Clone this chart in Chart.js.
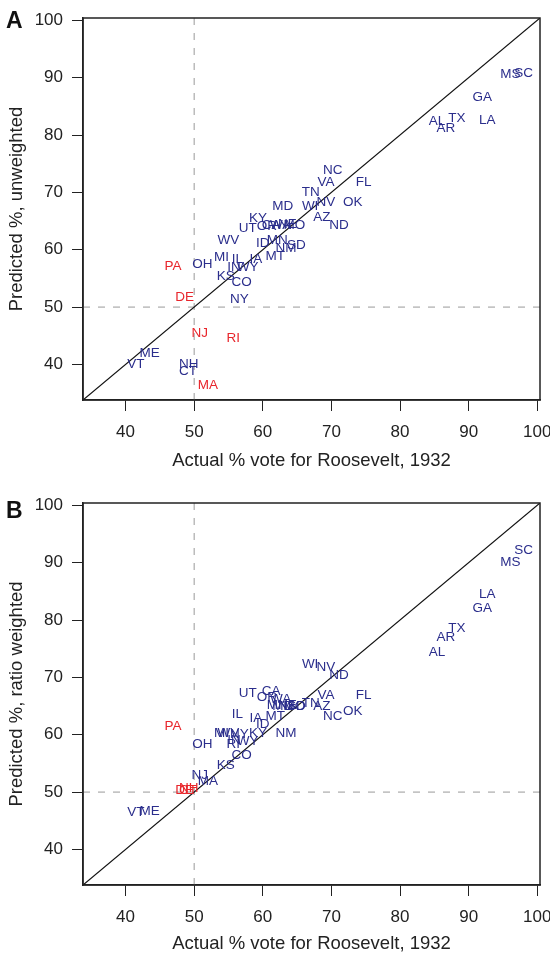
<!DOCTYPE html>
<html>
<head>
<meta charset="utf-8">
<script src="https://cdn.jsdelivr.net/npm/chart.js@4"></script>
<style>
  body { margin: 0; background: #fff; }
  .panel { position: relative; width: 550px; }
  canvas { display: block; }
  .tag { position: absolute; left: 6px; font: bold 23px "Liberation Sans", Arial, sans-serif; color: #111; }
</style>
</head>
<body>
<div class="panel">
  <div class="tag" style="top:7px">A</div>
  <canvas id="chartA" width="550" height="480"></canvas>
</div>
<div class="panel">
  <div class="tag" style="top:17px">B</div>
  <canvas id="chartB" width="550" height="475"></canvas>
</div>
<script>
// states and values
const states = ['AL','AZ','AR','CA','CO','CT','DE','FL','GA','ID','IL','IN','IA','KS','KY','LA',
  'ME','MD','MA','MI','MN','MS','MO','MT','NE','NV','NH','NJ','NM','NY','NC','ND',
  'OH','OK','OR','PA','RI','SC','SD','TN','TX','UT','VT','VA','WA','WV','WI','WY'];

// actual % vote for Roosevelt (x)
const actual = [85.4,68.6,86.7,61.2,56.9,49.1,48.6,74.7,92.0,60.0,56.3,55.8,59.0,54.6,59.3,92.7,
  43.5,62.9,52.0,54.0,62.1,96.1,64.6,61.8,63.6,69.2,49.2,50.8,63.4,56.6,70.2,71.1,
  51.2,73.1,60.6,46.9,55.7,98.0,64.9,67.0,88.3,57.8,41.5,69.2,62.6,55.0,66.9,57.8];

// predicted %, unweighted (panel A)
const predUnweighted = [82.4,65.6,81.2,64.3,54.4,38.8,51.7,71.7,86.6,61.2,58.4,57.0,58.4,55.3,65.4,82.6,
  41.9,67.5,36.3,58.6,61.6,90.6,64.3,58.8,64.4,68.2,40.0,45.4,60.3,51.3,73.9,64.2,
  57.4,68.2,64.1,57.2,44.5,90.8,60.7,70.1,83.0,63.7,40.0,71.8,64.3,61.7,67.5,57.0];

// predicted %, ratio weighted (panel B)
const predRatio = [74.3,65.0,77.0,67.5,56.5,50.4,50.4,66.8,82.1,61.9,63.5,59.0,62.8,54.6,60.3,84.5,
  46.6,65.0,51.8,60.3,65.2,90.1,64.9,63.3,65.2,71.8,50.6,53.0,60.3,60.0,63.3,70.4,
  58.4,64.0,66.6,61.4,58.4,92.2,64.9,65.4,78.6,67.3,46.4,66.8,66.1,60.3,72.2,58.8];

// labels drawn in red
const redA = ['PA','DE','NJ','RI','MA'];
const redB = ['PA','DE','NH','CT'];

const tickValues = [40, 50, 60, 70, 80, 90, 100];
const axisMin = 33.8;
const axisMax = 100.4;
const cutoff = 50;

const BLUE = '#2b2e8c';
const RED = '#e8262c';
const INK = '#222';
const FONT = '"Liberation Sans", Arial, Helvetica, sans-serif';

const stateLabels = {
  id: 'stateLabels',
  afterDatasetsDraw(chart, args, opts) {
    const meta = chart.getDatasetMeta(0);
    const ctx = chart.ctx;
    ctx.save();
    ctx.font = '13.5px ' + FONT;
    ctx.textAlign = 'center';
    ctx.textBaseline = 'middle';
    meta.data.forEach((pt, i) => {
      ctx.fillStyle = opts.red.includes(states[i]) ? RED : BLUE;
      ctx.fillText(states[i], pt.x, pt.y);
    });
    ctx.restore();
  }
};

const frame = {
  id: 'frame',
  afterDraw(chart) {
    const { left, top, right, bottom } = chart.chartArea;
    const ctx = chart.ctx;
    ctx.save();
    ctx.strokeStyle = INK;
    ctx.lineWidth = 1.5;
    ctx.strokeRect(left, top, right - left, bottom - top);
    ctx.restore();
  }
};

function makeChart(id, yValues, yTitle, red, opts) {
  const points = states.map((s, i) => ({ x: actual[i], y: yValues[i] }));
  const ctx = document.getElementById(id).getContext('2d');
  return new Chart(ctx, {
    type: 'scatter',
    data: {
      datasets: [
        {
          label: 'states',
          data: points,
          pointRadius: 0,
          pointHoverRadius: 0
        },
        {
          label: 'diagonal',
          data: [{ x: axisMin, y: axisMin }, { x: axisMax, y: axisMax }],
          showLine: true,
          borderColor: '#111',
          borderWidth: 1.2,
          pointRadius: 0
        },
        {
          label: 'x cutoff',
          data: [{ x: cutoff, y: axisMin }, { x: cutoff, y: axisMax }],
          showLine: true,
          borderColor: '#9a9a9a',
          borderWidth: 1,
          borderDash: [7, 8],
          pointRadius: 0
        },
        {
          label: 'y cutoff',
          data: [{ x: axisMin, y: cutoff }, { x: axisMax, y: cutoff }],
          showLine: true,
          borderColor: '#9a9a9a',
          borderWidth: 1,
          borderDash: [7, 8],
          pointRadius: 0
        }
      ]
    },
    options: {
      responsive: false,
      animation: false,
      devicePixelRatio: 1,
      layout: { padding: { top: opts.top, right: 10, left: 0, bottom: 0 } },
      plugins: {
        legend: { display: false },
        tooltip: { enabled: false },
        stateLabels: { red: red }
      },
      scales: {
        x: {
          type: 'linear',
          min: axisMin,
          max: axisMax,
          afterBuildTicks: (scale) => { scale.ticks = tickValues.map(v => ({ value: v })); },
          afterFit: (scale) => {
            scale.height = opts.xHeight;
            scale.paddingLeft = 0;
            scale.paddingRight = 0;
          },
          grid: { drawOnChartArea: false, drawTicks: true, tickLength: 11, color: INK, lineWidth: 1 },
          border: { display: true, color: INK, width: 1.5 },
          ticks: { color: INK, font: { size: 17, family: FONT }, padding: 11, maxRotation: 0 },
          title: {
            display: true,
            text: 'Actual % vote for Roosevelt, 1932',
            color: INK,
            font: { size: 18.5, family: FONT },
            padding: { top: 0, bottom: opts.titlePad }
          }
        },
        y: {
          type: 'linear',
          min: axisMin,
          max: axisMax,
          afterBuildTicks: (scale) => { scale.ticks = tickValues.map(v => ({ value: v })); },
          afterFit: (scale) => {
            scale.width = 83;
            scale.paddingTop = 0;
            scale.paddingBottom = 0;
          },
          grid: { drawOnChartArea: false, drawTicks: true, tickLength: 11, color: INK, lineWidth: 1 },
          border: { display: true, color: INK, width: 1.5 },
          ticks: { color: INK, font: { size: 17, family: FONT }, padding: 9 },
          title: {
            display: true,
            text: yTitle,
            color: INK,
            font: { size: 18.5, family: FONT },
            padding: { top: 6, bottom: 0 }
          }
        }
      }
    },
    plugins: [stateLabels, frame]
  });
}

makeChart('chartA', predUnweighted, 'Predicted %, unweighted', redA, { top: 18, xHeight: 80, titlePad: 8 });
makeChart('chartB', predRatio, 'Predicted %, ratio weighted', redB, { top: 23, xHeight: 70, titlePad: 0 });
</script>
</body>
</html>
